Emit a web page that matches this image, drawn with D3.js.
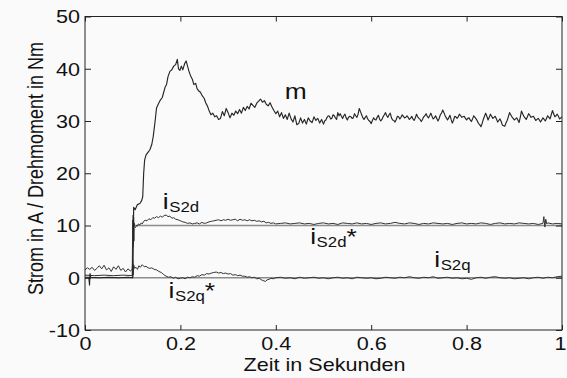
<!DOCTYPE html>
<html>
<head>
<meta charset="utf-8">
<script src="https://cdn.jsdelivr.net/npm/d3@7"></script>
<style>
  html, body { margin: 0; padding: 0; background: #fafafa; }
  svg { display: block; }
  text { font-family: "Liberation Sans", Arial, sans-serif; fill: #111; }
</style>
</head>
<body>
<svg id="chart" width="567" height="378"></svg>
<script>
// ---- Data ----
const xTicks = [0, 0.2, 0.4, 0.6, 0.8, 1];
const xTickLabels = ["0", "0.2", "0.4", "0.6", "0.8", "1"];
const yTicks = [-10, 0, 10, 20, 30, 40, 50];
const yTickLabels = ["-10", "0", "10", "20", "30", "40", "50"];
const xTitle = "Zeit in Sekunden";
const yTitle = "Strom in A / Drehmoment in Nm";

// reference currents
const iS2dRef = [[0, 0], [0.1, 0], [0.1, 10], [1, 10]];
const iS2qRef = [[0, 0], [1, 0]];

// torque m
const mMain = [
  [0,0.1],[0.008,0.1],[0.0095,-1.4],[0.0105,0.8],[0.012,0.1],[0.03,0.0],[0.05,0.1],[0.07,0.0],[0.09,0.1],[0.1,0.0],
  [0.101,6],[0.102,13.5],[0.105,13],[0.11,14],[0.115,14.2],[0.119,14.8],[0.121,15.5],[0.123,20],[0.125,22.5],
  [0.128,23.5],[0.132,24],[0.136,24.5],[0.14,25.5],[0.143,27],[0.147,30],[0.15,32.5],[0.154,33.3],[0.158,34],
  [0.162,34.5],[0.165,35.5],[0.168,36.5],[0.171,37],[0.174,38.5],[0.178,39.5],[0.182,39.8],[0.186,40.5],
  [0.19,40.8],[0.1935,41.8],[0.196,40],[0.199,39.7],[0.202,40.5],[0.205,39.8],[0.209,41],[0.212,41.5],
  [0.215,40.5],[0.218,39.5],[0.222,38.5],[0.225,38],[0.228,37],[0.232,37.2],[0.235,36.2],[0.238,35.8],
  [0.242,35.5],[0.246,34.8],[0.25,34.3],[0.253,33.5],[0.257,32.8],[0.26,32],[0.264,31.2],[0.268,31.5],
  [0.272,30.8],[0.276,31],[0.28,30.3],[0.284,30.5],[0.288,31.8],[0.292,31],[0.296,32.4],[0.3,31.6],
  [0.304,30.6],[0.308,31.5],[0.312,31.1],[0.316,31.9],[0.32,31.4],[0.324,32.2],[0.328,31.5],[0.332,32.6],
  [0.336,32],[0.34,32.8],[0.344,32.3],[0.348,33.4],[0.352,33.0],[0.356,32.6],[0.36,33.4],[0.364,33.8],
  [0.368,34.2],[0.372,33.6],[0.376,33.9],[0.38,33.2],[0.384,32.9],[0.388,33.5],[0.392,32.7],[0.396,32],
  [0.4,31.4],[0.404,31.9],[0.408,30.8],[0.412,31.6],[0.416,30.5],[0.42,31.2],[0.424,30.3],[0.428,31.5],
  [0.432,30.4],[0.436,29.8],[0.44,31],[0.444,29.3],[0.448,29.5],[0.452,30.6],[0.456,29.6],[0.46,30.3],
  [0.464,29.4],[0.468,30.6],[0.472,30],[0.476,29.7],[0.48,30.8],[0.484,30.1],[0.488,30.5],[0.492,29.6],
  [0.496,30.3],[0.5,29.4],
  [0.505,30.2],[0.51,31.0],[0.515,30.4],[0.52,31.2],[0.525,30.6],[0.53,31.6],[0.535,31.4],[0.54,30.5],
  [0.545,31.3],[0.55,30.2],[0.555,30.9],[0.56,30.5],[0.565,31.4],[0.57,30.7],[0.575,32.4],[0.58,31.2],
  [0.585,30.3],[0.59,31.0],[0.595,30.1],[0.6,29.5],[0.605,30.6],[0.61,30.2],[0.615,31.1],[0.62,30.0],
  [0.625,30.8],[0.63,31.6],[0.635,30.7],[0.64,31.5],[0.645,30.2],[0.65,29.8],[0.655,30.9],[0.66,30.4],
  [0.665,31.2],[0.67,30.6],[0.675,31.0],[0.68,30.3],[0.685,30.9],[0.69,30.1],[0.695,31.3],[0.7,30.5],
  [0.705,29.9],[0.71,30.8],[0.715,31.4],[0.72,30.6],[0.725,31.5],[0.73,30.4],[0.735,31.0],[0.74,30.0],
  [0.745,31.2],[0.75,32.1],[0.755,31.0],[0.76,30.2],[0.765,31.1],[0.77,29.6],[0.775,30.9],[0.78,30.5],
  [0.785,31.3],[0.79,30.7],[0.795,30.9],[0.8,30.2],[0.805,30.6],[0.81,29.9],[0.815,31.0],[0.82,30.4],
  [0.825,29.5],[0.83,28.9],[0.835,30.3],[0.84,31.5],[0.845,30.2],[0.85,31.3],[0.855,30.5],[0.86,30.9],
  [0.865,29.8],[0.87,30.4],[0.875,29.2],[0.88,29.0],[0.885,30.1],[0.89,31.6],[0.895,30.8],[0.9,30.2],
  [0.905,30.6],[0.91,29.7],[0.915,31.9],[0.92,30.9],[0.925,30.3],[0.93,31.4],[0.935,30.7],[0.94,30.9],
  [0.945,30.1],[0.95,30.5],[0.955,29.8],[0.96,30.6],[0.965,30.0],[0.97,31.0],[0.975,30.4],[0.98,32.0],
  [0.985,30.8],[0.99,31.3],[0.995,30.4],[1.0,30.8]
];
// extra in-between samples of m (fine jitter)
const mMid = [
  [0.5025,30.0],[0.5075,30.7],[0.5125,30.9],[0.5175,30.5],[0.5225,31.0],[0.5275,30.3],[0.5325,31.0],[0.5375,30.9],
  [0.5425,31.0],[0.5475,30.6],[0.5525,30.7],[0.5575,30.8],[0.5625,30.6],[0.5675,31.0],[0.5725,31.3],[0.5775,31.8],
  [0.5825,30.6],[0.5875,30.7],[0.5925,30.4],[0.5975,29.9],[0.6025,30.1],[0.6075,30.3],[0.6125,30.7],[0.6175,30.4],
  [0.6225,30.3],[0.6275,31.2],[0.6325,31.0],[0.6375,31.2],[0.6425,30.6],[0.6475,30.1],[0.6525,30.3],[0.6575,30.8],
  [0.6625,30.7],[0.6675,30.9],[0.6725,30.7],[0.6775,30.7],[0.6825,30.5],[0.6875,30.4],[0.6925,30.6],[0.6975,30.8],
  [0.7025,30.3],[0.7075,30.3],[0.7125,31.0],[0.7175,30.9],[0.7225,31.0],[0.7275,30.9],[0.7325,30.6],[0.7375,30.5],
  [0.7425,30.5],[0.7475,31.5],[0.7525,31.6],[0.7575,30.6],[0.7625,30.6],[0.7675,30.3],[0.7725,30.1],[0.7775,30.8],
  [0.7825,30.8],[0.7875,31.0],[0.7925,30.8],[0.7975,30.5],[0.8025,30.5],[0.8075,30.2],[0.8125,30.4],[0.8175,30.7],
  [0.8225,30.0],[0.8275,29.3],[0.8325,29.5],[0.8375,30.9],[0.8425,30.9],[0.8475,30.7],[0.8525,30.9],[0.8575,30.7],
  [0.8625,30.4],[0.8675,30.1],[0.8725,29.9],[0.8775,29.1],[0.8825,29.6],[0.8875,30.8],[0.8925,31.2],[0.8975,30.5],
  [0.9025,30.4],[0.9075,30.2],[0.9125,30.7],[0.9175,31.4],[0.9225,30.6],[0.9275,30.8],[0.9325,31.1],[0.9375,30.8],
  [0.9425,30.5],[0.9475,30.3],[0.9525,30.2],[0.9575,30.2],[0.9625,30.3],[0.9675,30.5],[0.9725,30.7],[0.9775,31.2],
  [0.9825,31.4],[0.9875,31.0],[0.9925,30.9],[0.9975,30.6]
];

// measured d-current
const iS2dData = [
  [0,0.5],[0.02,0.4],[0.04,0.5],[0.06,0.4],[0.08,0.5],[0.099,0.4],
  [0.1,11],[0.1005,6],[0.101,12],[0.1015,6.5],[0.102,11.5],[0.1025,7],[0.103,10.5],[0.104,9.8],[0.106,9.6],
  [0.108,10],[0.11,9.9],[0.112,10.3],[0.115,10.1],[0.118,10.5],[0.12,10.3],[0.123,10.8],[0.126,11],[0.13,10.9],
  [0.134,11.3],[0.138,11.1],[0.142,11.5],[0.146,11.4],[0.15,11.7],[0.154,11.5],[0.158,11.8],[0.162,11.6],
  [0.166,11.9],[0.17,12],[0.174,11.7],[0.178,11.8],[0.182,11.4],[0.186,11.5],[0.19,11.2],[0.195,11.1],
  [0.2,10.9],[0.205,10.7],[0.21,10.6],[0.215,10.4],[0.22,10.5],[0.225,10.3],[0.23,10.4],[0.235,10.5],
  [0.24,10.3],[0.245,10.6],[0.25,10.4],[0.255,10.5],[0.26,10.7],[0.265,10.8],[0.27,10.9],[0.275,11.0],
  [0.28,11.1],[0.285,10.9],[0.29,11.1],[0.295,11.0],[0.3,11.2],[0.305,11.0],[0.31,11.1],[0.315,11.2],
  [0.32,10.9],[0.325,11.2],[0.33,11.0],[0.335,11.1],[0.34,10.9],[0.345,11.1],[0.35,10.9],[0.355,11.0],
  [0.36,10.8],[0.365,10.9],[0.37,10.7],[0.375,10.8],[0.38,10.5],[0.385,10.6],[0.39,10.4],[0.395,10.5],
  [0.4,10.3],[0.41,10.4],[0.42,10.5],[0.43,10.3],[0.44,10.4],[0.45,10.5],[0.46,10.3],[0.47,10.4],[0.48,10.2],
  [0.49,10.4],[0.5,10.5],[0.51,10.3],[0.52,10.4],[0.53,10.2],[0.54,10.5],[0.55,10.4],[0.56,10.3],[0.57,10.5],
  [0.58,10.3],[0.59,10.4],[0.6,10.2],[0.61,10.4],[0.62,10.5],[0.63,10.3],[0.64,10.4],[0.65,10.6],[0.66,10.4],
  [0.67,10.3],[0.68,10.5],[0.69,10.4],[0.7,10.2],[0.71,10.4],[0.72,10.3],[0.73,10.5],[0.74,10.4],[0.75,10.3],
  [0.76,10.4],[0.77,10.2],[0.78,10.4],[0.79,10.5],[0.8,10.3],[0.81,10.4],[0.82,10.3],[0.83,10.5],[0.84,10.4],
  [0.85,10.2],[0.86,10.4],[0.87,10.5],[0.88,10.3],[0.89,10.4],[0.9,10.3],[0.91,10.5],[0.92,10.4],[0.93,10.3],
  [0.94,10.4],[0.95,10.2],[0.96,10.4],[0.962,11.7],[0.964,9.7],[0.966,11.2],[0.968,10.3],[0.97,10.5],
  [0.98,10.3],[0.99,10.4],[1.0,10.3]
];

// measured q-current
const iS2qData = [
  [0,1.5],[0.005,1.9],[0.01,1.6],[0.015,2.0],[0.02,1.4],[0.025,1.8],[0.03,2.3],[0.035,1.7],[0.04,2.4],
  [0.045,1.5],[0.05,1.9],[0.055,1.2],[0.06,2.1],[0.065,1.6],[0.07,2.3],[0.075,1.4],[0.08,1.8],[0.085,1.1],
  [0.09,1.7],[0.095,1.3],[0.099,1.6],[0.1,3.5],[0.101,0.5],[0.102,2.5],[0.104,1.8],[0.107,2.0],[0.11,1.6],
  [0.113,2.3],[0.116,2.0],[0.12,2.5],[0.124,2.1],[0.128,2.2],[0.132,1.9],[0.136,1.8],[0.14,1.9],[0.145,1.6],
  [0.15,1.5],[0.155,1.2],[0.16,1.0],[0.165,0.6],[0.17,0.3],[0.175,0.1],[0.18,0.2],[0.185,-0.1],[0.19,0.1],
  [0.195,-0.2],[0.2,-0.1],[0.205,0.0],[0.21,-0.2],[0.215,0.1],[0.22,0.0],[0.225,0.2],[0.23,0.1],[0.235,0.4],
  [0.24,0.3],[0.245,0.6],[0.25,0.5],[0.255,0.8],[0.26,0.7],[0.265,0.9],[0.27,1.0],[0.275,1.1],[0.28,0.9],
  [0.285,1.0],[0.29,0.8],[0.295,0.9],[0.3,0.7],[0.305,0.8],[0.31,0.5],[0.315,0.6],[0.32,0.4],[0.325,0.5],
  [0.33,0.3],[0.335,0.3],[0.34,0.1],[0.345,0.2],[0.35,0.0],[0.355,0.1],[0.36,-0.2],[0.365,-0.1],[0.37,-0.4],
  [0.375,-0.6],[0.378,-0.7],[0.382,-0.4],[0.386,-0.3],[0.39,-0.1],[0.395,-0.2],[0.4,0.0],
  [0.41,0.1],[0.42,-0.1],[0.43,0.0],[0.44,-0.2],[0.45,0.1],[0.46,-0.1],[0.47,0.0],[0.48,0.1],[0.49,-0.1],
  [0.5,0.0],[0.51,-0.2],[0.52,0.0],[0.53,0.1],[0.54,-0.1],[0.55,0.0],[0.56,-0.2],[0.57,0.1],[0.58,0.0],
  [0.59,-0.1],[0.6,0.0],[0.61,-0.2],[0.62,-0.1],[0.63,0.1],[0.64,0.0],[0.65,-0.1],[0.66,0.1],[0.67,0.0],
  [0.68,0.2],[0.69,0.0],[0.7,-0.1],[0.71,0.1],[0.72,0.0],[0.73,0.2],[0.74,-0.1],[0.75,0.0],[0.76,0.1],
  [0.77,-0.1],[0.78,0.0],[0.79,-0.2],[0.8,-0.1],[0.81,-0.3],[0.82,0.0],[0.83,0.1],[0.84,-0.1],[0.85,0.1],
  [0.86,0.2],[0.87,0.0],[0.88,-0.1],[0.89,0.0],[0.9,-0.2],[0.91,-0.1],[0.92,0.0],[0.93,-0.2],[0.94,0.0],
  [0.95,0.1],[0.96,-0.1],[0.97,0.1],[0.98,0.0],[0.99,0.2],[1.0,0.3]
];

// curve labels: [main, subscript, suffix, t, value]
const curveLabels = [
  ["m", "", "", 0.419, 34.3],
  ["i", "S2d", "", 0.163, 13.25],
  ["i", "S2d", "*", 0.472, 6.55],
  ["i", "S2q", "*", 0.175, -3.95],
  ["i", "S2q", "", 0.732, 2.1]
];

// ---- Layout ----
const svg = d3.select("#chart");
const W = 567, H = 378;
const L = 85, R = 562, T = 16.5, B = 330;
const SX = 1.2; // horizontal stretch of the original text

svg.append("rect").attr("width", W).attr("height", H).attr("fill", "#fafafa");

const x = d3.scaleLinear().domain([0, 1]).range([L, R]);
const y = d3.scaleLinear().domain([-10, 50]).range([B, T]);

const line = d3.line().x(d => x(d[0])).y(d => y(d[1]));
const mData = mMain.concat(mMid).sort((a, b) => a[0] - b[0]);

// references (gray)
[iS2dRef, iS2qRef].forEach(d => {
  svg.append("path").datum(d).attr("d", line)
    .attr("fill", "none").attr("stroke", "#8c8c8c").attr("stroke-width", 1.4);
});

// measured traces (dark)
[iS2qData, iS2dData].forEach(d => {
  svg.append("path").datum(d).attr("d", line)
    .attr("fill", "none").attr("stroke", "#333").attr("stroke-width", 1)
    .attr("stroke-linejoin", "round");
});
svg.append("path").datum(mData).attr("d", line)
  .attr("fill", "none").attr("stroke", "#262626").attr("stroke-width", 1.15)
  .attr("stroke-linejoin", "round");

// axes
const gB = svg.append("g").attr("transform", `translate(0,${B})`)
  .call(d3.axisBottom(x).tickValues(xTicks).tickSizeInner(-5).tickSizeOuter(0)
    .tickFormat((d, i) => xTickLabels[i]));
gB.selectAll("text").attr("y", 20).attr("dy", 0)
  .attr("transform", (d, i) => i === xTicks.length - 1 ? `translate(-2,0) scale(${SX},1)` : `scale(${SX},1)`)
  .style("font-size", "18px").attr("fill", "#111");

const gT = svg.append("g").attr("transform", `translate(0,${T})`)
  .call(d3.axisTop(x).tickValues(xTicks).tickSizeInner(-5).tickSizeOuter(0).tickFormat(""));

const gL = svg.append("g").attr("transform", `translate(${L},0)`)
  .call(d3.axisLeft(y).tickValues(yTicks).tickSizeInner(-6).tickSizeOuter(0)
    .tickFormat((d, i) => yTickLabels[i]));
gL.selectAll("text").attr("x", 0).attr("dy", "0.35em")
  .attr("transform", `translate(-5,0) scale(${SX},1)`).style("font-size", "18px").attr("fill", "#111");

const gR = svg.append("g").attr("transform", `translate(${R},0)`)
  .call(d3.axisRight(y).tickValues(yTicks).tickSizeInner(-6).tickSizeOuter(0).tickFormat(""));

[gB, gT, gL, gR].forEach(g => {
  g.select(".domain").remove();
  g.selectAll(".tick line").attr("stroke", "#222");
});

svg.append("rect").attr("x", L).attr("y", T).attr("width", R - L).attr("height", B - T)
  .attr("fill", "none").attr("stroke", "#222").attr("stroke-width", 1);

// axis titles
svg.append("text").attr("transform", `translate(${(L + R) / 2 + 1},371) scale(${SX},1)`)
  .attr("text-anchor", "middle").style("font-size", "18px").text(xTitle);
svg.append("text").attr("transform", `translate(43,168.5) scale(${SX},1) rotate(-90)`)
  .attr("text-anchor", "middle").style("font-size", "18px").text(yTitle);

// curve labels
curveLabels.forEach(([main, sub, suf, t, v]) => {
  const tx = svg.append("text")
    .attr("transform", `translate(${x(t)},${y(v)}) scale(${SX},1)`)
    .style("font-size", "22px");
  tx.append("tspan").text(main);
  if (sub) tx.append("tspan").attr("dx", 0.5).attr("dy", 3).style("font-size", "14px").text(sub);
  if (suf) tx.append("tspan").attr("dy", -3).text(suf);
});
</script>
</body>
</html>
